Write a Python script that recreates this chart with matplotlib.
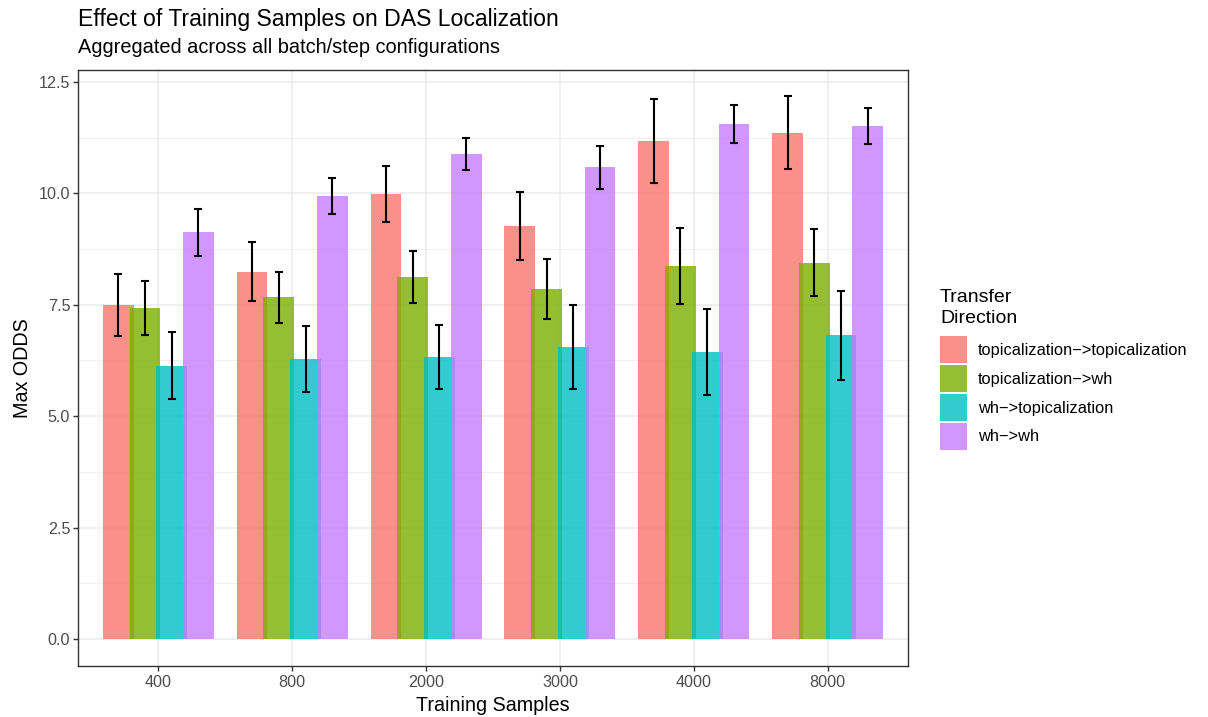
import numpy as np
import matplotlib
matplotlib.use("Agg")
import matplotlib.pyplot as plt
from matplotlib.ticker import MultipleLocator

# data
samples = ["400", "800", "2000", "3000", "4000", "8000"]
directions = ["topicalization\u2212>topicalization", "topicalization\u2212>wh",
              "wh\u2212>topicalization", "wh\u2212>wh"]
topic_topic = [7.50, 8.24, 9.99, 9.27, 11.17, 11.36]
topic_wh = [7.43, 7.67, 8.12, 7.85, 8.37, 8.44]
wh_topic = [6.13, 6.28, 6.33, 6.55, 6.44, 6.82]
wh_wh = [9.13, 9.94, 10.88, 10.59, 11.56, 11.51]
err_topic_topic = [0.70, 0.66, 0.635, 0.76, 0.94, 0.82]
err_topic_wh = [0.605, 0.575, 0.58, 0.68, 0.855, 0.75]
err_wh_topic = [0.75, 0.735, 0.725, 0.94, 0.965, 1.00]
err_wh_wh = [0.525, 0.405, 0.355, 0.485, 0.42, 0.405]

means = [topic_topic, topic_wh, wh_topic, wh_wh]
errs = [err_topic_topic, err_topic_wh, err_wh_topic, err_wh_wh]
COLORS = ["#F8766D", "#7CAE00", "#00BFC4", "#C77CFF"]
INK, TICK, GRID, BORDER = "#000000", "#4D4D4D", "#EBEBEB", "#333333"

plt.rcParams["font.family"] = ["Liberation Sans", "DejaVu Sans"]

fig = plt.figure(figsize=(12.08, 7.17), dpi=100)
ax = fig.add_axes([78 / 1208, 51 / 717, 830 / 1208, 596 / 717])

x = np.arange(len(samples))
step, width = 0.2, 0.23
for i, (m, c, lab) in enumerate(zip(means, COLORS, directions)):
    ax.bar(x + (i - 1.5) * step, m, width=width, color=c, alpha=0.8, lw=0,
           label=lab, zorder=2)
for i, (m, e) in enumerate(zip(means, errs)):
    ax.errorbar(x + (i - 1.5) * step, m, yerr=e, fmt="none", ecolor=INK,
                elinewidth=1.5, capsize=2.6, capthick=1.5, zorder=3)

ax.set_xlim(-0.6, len(samples) - 0.4)
ax.set_ylim(-0.608, 12.77)
ax.set_xticks(x)
ax.set_xticklabels(samples)
ax.yaxis.set_major_locator(MultipleLocator(2.5))
ax.yaxis.set_minor_locator(MultipleLocator(1.25))
ax.yaxis.set_major_formatter(lambda v, p: f"{v:.1f}")
ax.tick_params(which="major", length=3.6, width=1.0, color=BORDER,
               labelcolor=TICK, labelsize=11.6, pad=2)
ax.tick_params(axis="x", which="major", pad=3)
ax.tick_params(which="minor", length=0)
ax.grid(True, which="major", color=GRID, lw=1.1, zorder=0)
ax.grid(True, which="minor", axis="y", color=GRID, lw=0.55, zorder=0)
ax.set_axisbelow(True)
for s in ax.spines.values():
    s.set_color(BORDER)
    s.set_linewidth(1.0)

ax.set_xlabel("Training Samples", fontsize=14.2, color=INK, labelpad=4)
ax.set_ylabel("Max ODDS", fontsize=14.2, color=INK, labelpad=5)

fig.text(78 / 1208, 1 - 26 / 717, "Effect of Training Samples on DAS Localization",
         fontsize=16.6, color=INK, ha="left", va="baseline")
fig.text(78 / 1208, 1 - 53 / 717, "Aggregated across all batch/step configurations",
         fontsize=14.4, color=INK, ha="left", va="baseline")

# legend: title as separate text so the gap to the keys matches ggplot
fig.text(940 / 1208, 1 - 323 / 717, "Transfer\nDirection", fontsize=14.0,
         color=INK, ha="left", va="baseline", linespacing=1.3)
leg = fig.legend(loc="upper left", bbox_to_anchor=(940 / 1208, 1 - 336 / 717),
                 fontsize=11.8, frameon=False, borderpad=0, borderaxespad=0,
                 handlelength=1.65, handleheight=2.155, labelspacing=0.12,
                 handletextpad=0.67)

fig.savefig("out.png", dpi=100, facecolor="white")
